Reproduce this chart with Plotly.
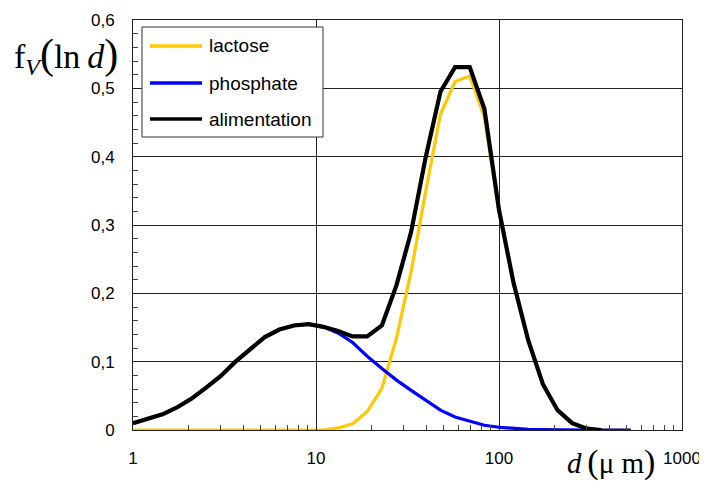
import plotly.graph_objects as go

# particle size grid (µm)
diam = [1.00, 1.20, 1.45, 1.74, 2.09, 2.51, 3.02, 3.63, 4.37, 5.25,
        6.31, 7.59, 9.12, 10.96, 13.18, 15.85, 19.05, 22.91, 27.54, 33.11,
        39.81, 47.86, 57.54, 69.18, 83.18, 100.0, 120.2, 144.5, 173.8, 208.9,
        251.2, 302.0, 363.1, 436.5, 524.8]

lactose = [0, 0, 0, 0, 0, 0, 0, 0, 0, 0,
           0, 0, 0, 0, 0.003, 0.009, 0.027, 0.061, 0.135, 0.232,
           0.350, 0.462, 0.510, 0.518, 0.458, 0.320, 0.213, 0.130, 0.066, 0.028,
           0.009, 0.002, 0, 0, 0]

phosphate = [0.010, 0.016, 0.023, 0.033, 0.046, 0.062, 0.079, 0.100, 0.119, 0.136,
             0.147, 0.153, 0.155, 0.151, 0.142, 0.128, 0.108, 0.090, 0.073, 0.058,
             0.043, 0.029, 0.019, 0.013, 0.007, 0.004, 0.002, 0.001, 0.0005, 0,
             0, 0, 0, 0, 0]

alim_diam = diam[:33]
alimentation = [0.010, 0.016, 0.023, 0.033, 0.046, 0.062, 0.079, 0.100, 0.119, 0.136,
                0.147, 0.153, 0.155, 0.151, 0.145, 0.137, 0.137, 0.153, 0.212, 0.290,
                0.400, 0.495, 0.531, 0.531, 0.470, 0.322, 0.215, 0.131, 0.067, 0.029,
                0.010, 0.002, 0]

y_ticks = [0, 0.1, 0.2, 0.3, 0.4, 0.5, 0.6]
y_labels = ["0", "0,1", "0,2", "0,3", "0,4", "0,5", "0,6"]

series_names = ["lactose", "phosphate", "alimentation"]
series_colors = ["#FFC800", "#0000FF", "#000000"]

# the page has an 8px body margin, so the figure is drawn 8px in from the top-left
OFF = 8
PAGE_W, PAGE_H = 707, 483
W, H = PAGE_W - OFF, PAGE_H - OFF
# plot area in page pixels
L, R, T, B = 133, 682, 20, 430


def px_x(p):
    return (p - L) / (R - L)


def px_y(p):
    return (B - p) / (B - T)


fig = go.Figure()
fig.add_trace(go.Scatter(x=diam, y=lactose, mode="lines", name="lactose",
                         line=dict(color=series_colors[0], width=3.2), showlegend=False))
fig.add_trace(go.Scatter(x=diam, y=phosphate, mode="lines", name="phosphate",
                         line=dict(color=series_colors[1], width=3.2), showlegend=False))
fig.add_trace(go.Scatter(x=alim_diam, y=alimentation, mode="lines", name="alimentation",
                         line=dict(color=series_colors[2], width=4.2), showlegend=False))

fig.update_layout(
    width=W, height=H,
    margin=dict(l=L - OFF, r=PAGE_W - R, t=T - OFF, b=PAGE_H - B, autoexpand=False),
    paper_bgcolor="white", plot_bgcolor="white",
    font=dict(family="Liberation Sans, Arial, sans-serif", size=17, color="black"),
)

fig.update_xaxes(
    type="log", range=[0, 3], dtick=1, tick0=0,
    showline=True, mirror=True, linecolor="#222", linewidth=1,
    showgrid=True, gridcolor="#222", gridwidth=1,
    ticks="inside", ticklen=5, tickcolor="#222",
    minor=dict(ticks="inside", ticklen=5, tickcolor="#444", dtick="D1", showgrid=False),
    ticklabelstandoff=13, automargin=False,
    zeroline=False,
)
fig.update_yaxes(
    range=[0, 0.6], tickvals=y_ticks, ticktext=y_labels,
    showline=True, mirror=True, linecolor="#222", linewidth=1,
    showgrid=True, gridcolor="#222", gridwidth=1,
    ticks="inside", ticklen=5, tickcolor="#222",
    minor=dict(ticks="inside", ticklen=5, tickcolor="#444", dtick=0.02, showgrid=False),
    ticklabelstandoff=14, automargin=False,
    zeroline=False,
)

shapes = []
annotations = []

# legend box
shapes.append(dict(type="rect", xref="paper", yref="paper",
                   x0=px_x(142), x1=px_x(323), y0=px_y(137), y1=px_y(27),
                   line=dict(color="#333", width=1), fillcolor="white", layer="above"))
leg_y = [46, 83, 119]
for name, col, yy in zip(series_names, series_colors, leg_y):
    shapes.append(dict(type="line", xref="paper", yref="paper",
                       x0=px_x(150), x1=px_x(202), y0=px_y(yy), y1=px_y(yy),
                       line=dict(color=col, width=3.5), layer="above"))
    annotations.append(dict(text=name, xref="paper", yref="paper",
                            x=px_x(207), y=px_y(yy), xanchor="left", yanchor="middle",
                            showarrow=False,
                            font=dict(family="Liberation Sans, Arial, sans-serif", size=19, color="black")))

# axis titles
serif = "Liberation Serif, Times New Roman, serif"
annotations.append(dict(
    text="f<sub><i>V</i></sub><span style='font-size:42px'>(</span>ln\u2009<i>d</i><span style='font-size:42px'>)</span>",
    xref="paper", yref="paper", x=px_x(12), y=px_y(56), xanchor="left", yanchor="middle",
    showarrow=False, font=dict(family=serif, size=34, color="black")))
annotations.append(dict(
    text="<i>d</i>\u2009<span style='font-size:34px'>(</span>μ m<span style='font-size:34px'>)</span>",
    xref="paper", yref="paper", x=px_x(565), y=px_y(462), xanchor="left", yanchor="middle",
    showarrow=False, font=dict(family=serif, size=29, color="black")))

fig.update_layout(shapes=shapes, annotations=annotations)

fig.write_html("out.html")
